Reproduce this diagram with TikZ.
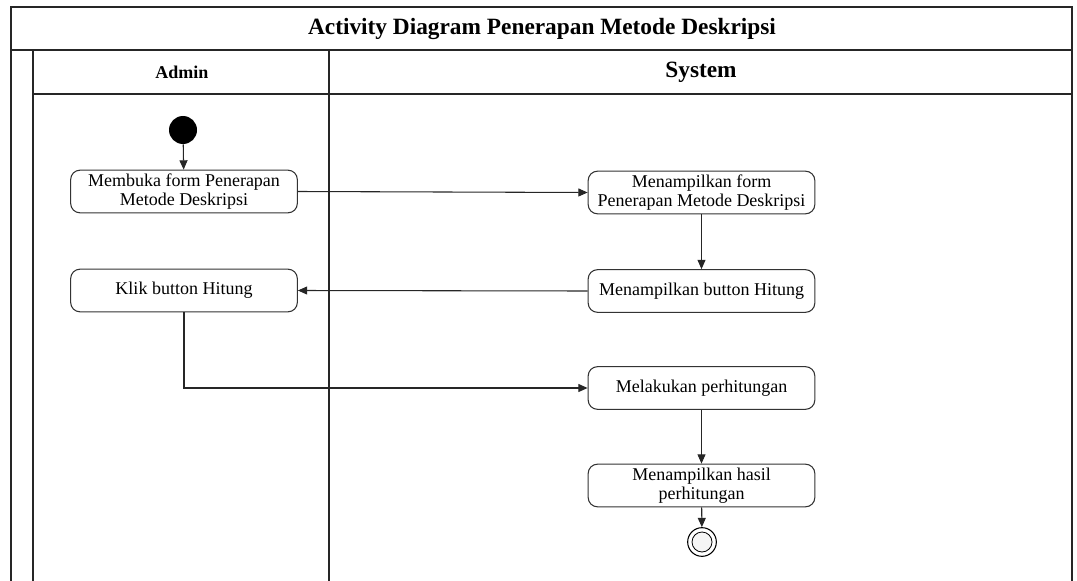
\documentclass[tikz,border=0pt]{standalone}
\usepackage{fontspec}
\setmainfont{Liberation Serif}
\usetikzlibrary{arrows.meta,positioning}

\tikzset{
  frame/.style={draw=black!85, line width=1.1pt},
  action/.style={draw=black!80, line width=0.8pt, rounded corners=7pt,
    minimum width=170pt, minimum height=32pt, align=center, inner sep=1pt,
    font=\fontsize{13.5}{14.2}\selectfont},
  flow/.style={draw=black!85, line width=0.8pt, -{Triangle[length=7pt,width=6pt]}},
  laneheading/.style={font=\bfseries},
}

\begin{document}
\begin{tikzpicture}[x=0.75pt,y=-0.75pt]
\useasboundingbox (0,0) rectangle (1077,581);

% swimlane frame
\draw[frame] (11,581) -- (11,7) -- (1072,7) -- (1072,581);
\draw[frame] (11,50) -- (1072,50);
\draw[frame] (33,581) -- (33,50);
\draw[frame] (329,581) -- (329,50);
\draw[frame] (33,94) -- (1072,94);

% headings
\node[laneheading, font=\bfseries\fontsize{17.5}{20}\selectfont] (title) at (542,29) {Activity Diagram Penerapan Metode Deskripsi};
\node[laneheading, font=\bfseries\fontsize{13.5}{16}\selectfont] (admin) at (182,72) {Admin};
\node[laneheading, font=\bfseries\fontsize{17.5}{20}\selectfont] (system) at (701,72) {System};

% activities
\node[circle, fill=black, minimum size=21pt, inner sep=0pt] (start) at (183,130) {};
\node[action] (buka) at (184,191.5) {Membuka form Penerapan\\Metode Deskripsi};
\node[action] (tampilform) at (701.5,192.5) {Menampilkan form\\Penerapan Metode Deskripsi};
\node[action] (tampilbtn) at (701.5,291) {Menampilkan button Hitung};
\node[action] (klik) at (184,290.5) {Klik button Hitung};
\node[action] (hitung) at (701.5,388) {Melakukan perhitungan};
\node[action] (hasil) at (701.5,485.5) {Menampilkan hasil\\perhitungan};
\node[circle, draw=black, line width=0.8pt, minimum size=21.5pt, inner sep=0pt] (end) at (702,542) {};
\node[circle, draw=black, fill=gray!8, line width=0.6pt, minimum size=15pt, inner sep=0pt] (endin) at (end.center) {};

% control flow
\draw[flow] (start) -- (buka);
\draw[flow] (buka.east) -- (tampilform.west);
\draw[flow] (tampilform) -- (tampilbtn);
\draw[flow] (tampilbtn.west) -- (klik.east);
\draw[flow] (klik.south) |- (hitung.west);
\draw[flow] (hitung) -- (hasil);
\draw[flow] (hasil) -- (end);
\end{tikzpicture}
\end{document}
